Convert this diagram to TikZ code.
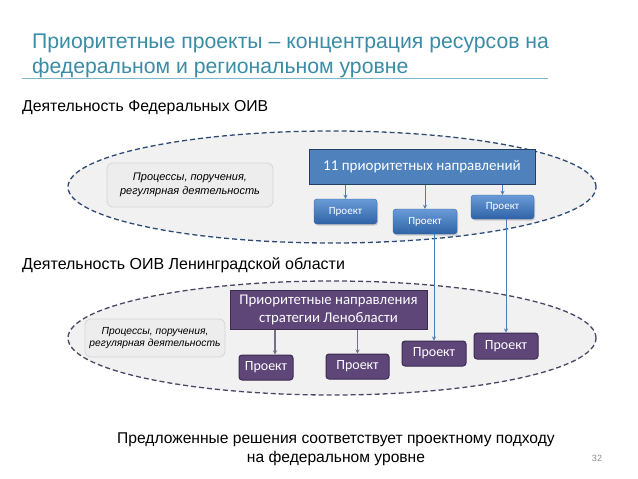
\documentclass[tikz,border=0pt]{standalone}
\usepackage{fontspec}
\setmainfont{Liberation Sans}
\newfontfamily\calib{Carlito}
\usetikzlibrary{shapes.geometric,arrows.meta,shadows}
\definecolor{titleteal}{HTML}{3B8CA6}
\definecolor{titleline}{HTML}{7FB8CC}
\definecolor{navydash}{HTML}{2E4A74}
\definecolor{purpdash}{HTML}{4B4561}
\definecolor{ellgray}{HTML}{F1F1F1}
\definecolor{boxgray}{HTML}{EDEDED}
\definecolor{boxgrayline}{HTML}{D6D6D6}
\definecolor{dirblue}{HTML}{4F81BD}
\definecolor{dirblueline}{HTML}{233F66}
\definecolor{projtop}{HTML}{6A9BD8}
\definecolor{projbot}{HTML}{2F63A6}
\definecolor{purp}{HTML}{5E4679}
\definecolor{purpline}{HTML}{3B2B4F}
\definecolor{arrowblue}{HTML}{4A7EBB}
\definecolor{arrowpurp}{HTML}{7A6C8C}
\tikzset{
  area/.style={ellipse, fill=ellgray, line width=1.3pt, dash pattern=on 5pt off 3pt, inner sep=0},
  graybox/.style={rectangle, rounded corners=6pt, fill=boxgray, draw=boxgrayline, line width=0.8pt, align=center, font=\fontsize{11}{13.5}\selectfont\itshape, inner sep=0},
  dirbox/.style={rectangle, fill=dirblue, draw=dirblueline, line width=1pt, text=white, inner sep=0},
  projbox/.style={rectangle, rounded corners=3pt, top color=projtop, bottom color=projbot, draw=projbot, line width=0.4pt, text=white, font=\calib\fontsize{11}{12}\selectfont, inner sep=0, drop shadow={shadow xshift=1pt, shadow yshift=-1.5pt, opacity=0.35}},
  purpbig/.style={rectangle, fill=purp, draw=purpline, line width=1pt, text=white, align=center, font=\calib\fontsize{14.8}{18}\selectfont, inner sep=0},
  purpproj/.style={rectangle, rounded corners=3pt, fill=purp, draw=purpline, line width=1pt, text=white, font=\calib\fontsize{14}{15}\selectfont, inner sep=0},
  barrow/.style={draw=arrowblue, line width=0.8pt, -{Stealth[length=4pt,width=4pt]}},
  parrow/.style={draw=arrowpurp, line width=1.2pt, -{Stealth[length=4pt,width=4pt]}},
  head/.style={anchor=west, inner sep=0, font=\fontsize{15.8}{18}\selectfont}
}
\begin{document}
\begin{tikzpicture}[x=1pt,y=-1pt]
\useasboundingbox[fill=white] (0,0) rectangle (638,479);
% title
\node[anchor=north west, text=titleteal, font=\fontsize{21.2}{25}\selectfont, align=left, inner sep=0] (title) at (32,34) {Приоритетные проекты – концентрация ресурсов на\\федеральном и региональном уровне};
\draw[titleline, line width=1pt] (22,78) -- (548,78);
% federal
\node[head] (fedhead) at (22,108) {Деятельность Федеральных ОИВ};
\node[area, draw=navydash, minimum width=528pt, minimum height=112pt] (fedarea) at (332,187) {};
\node[graybox, minimum width=166pt, minimum height=44pt] (fedproc) at (190,185) {Процессы, поручения,\\регулярная деятельность};
\node[dirbox, minimum width=226pt, minimum height=35pt, font=\calib\fontsize{15}{17}\selectfont] (dir) at (422,166.5) {11 приоритетных направлений};
\node[projbox, minimum width=63pt, minimum height=25pt] (p1) at (345.5,211.5) {Проект};
\node[projbox, minimum width=64pt, minimum height=25pt] (p2) at (425,221.5) {Проект};
\node[projbox, minimum width=63pt, minimum height=24pt] (p3) at (502.5,207) {Проект};
\draw[barrow] (dir.south -| p1.north) -- (p1.north);
\draw[barrow] (dir.south -| p2.north) -- (p2.north);
\draw[barrow] (dir.south -| p3.north) -- (p3.north);
% regional
\node[head, font=\fontsize{16}{18}\selectfont] (reghead) at (22,265) {Деятельность ОИВ Ленинградской области};
\node[area, draw=purpdash, minimum width=528pt, minimum height=114pt] (regarea) at (332,338) {};
\node[graybox, minimum width=140pt, minimum height=38pt, font=\fontsize{10.3}{12.5}\selectfont\itshape] (regproc) at (155,338) {Процессы, поручения,\\регулярная деятельность};
\node[purpbig, minimum width=197pt, minimum height=39pt] (strat) at (328.5,309.5) {Приоритетные направления\\стратегии Ленобласти};
\node[purpproj, minimum width=54pt, minimum height=25pt] (l1) at (266,367.5) {Проект};
\node[purpproj, minimum width=63pt, minimum height=25pt] (l2) at (357.5,366.5) {Проект};
\node[purpproj, minimum width=64pt, minimum height=25pt] (l3) at (434,353.5) {Проект};
\node[purpproj, minimum width=64pt, minimum height=26pt] (l4) at (506,346) {Проект};
\coordinate (l1in) at ([xshift=9pt]l1.north);
\draw[parrow] (strat.south -| l1in) -- (l1in);
\draw[parrow] (strat.south -| l2.north) -- (l2.north);
% federal to regional
\draw[barrow] (p2.south -| l3.north) -- (l3.north);
\draw[barrow] (p3.south -| l4.north) -- (l4.north);
% footer
\node[align=center, inner sep=0, font=\fontsize{15.6}{18.5}\selectfont] (concl) at (336,449) {Предложенные решения соответствует проектному подходу\\на федеральном уровне};
\node[inner sep=0, text=black!45, font=\fontsize{9}{10}\selectfont] (pagenum) at (597,458) {32};
\end{tikzpicture}
\end{document}
